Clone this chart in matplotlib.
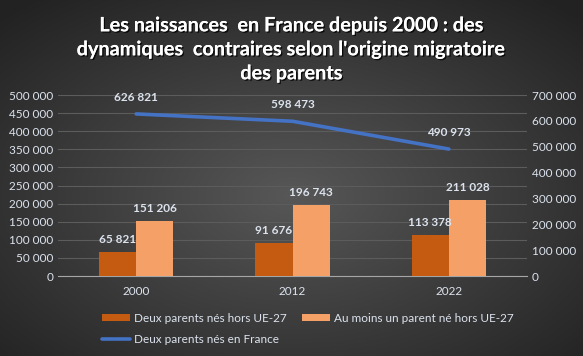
import numpy as np
import matplotlib.pyplot as plt
import matplotlib.patheffects as pe
from matplotlib.ticker import FuncFormatter

# data
annees = ['2000', '2012', '2022']
hors_ue = [65821, 91676, 113378]
un_parent_hors_ue = [151206, 196743, 211028]
nes_france = [626821, 598473, 490973]

plt.rcParams['font.family'] = ['Lato', 'DejaVu Sans']

txt_col = '#dce3ee'
fmt = FuncFormatter(lambda v, p: '{:,.0f}'.format(v).replace(',', ' '))

fig = plt.figure(figsize=(5.83, 3.56), dpi=100)

# fond en degrade radial
bg = fig.add_axes([0, 0, 1, 1], zorder=-10)
yy, xx = np.mgrid[0:1:356j, 0:1:583j]
r = np.sqrt(((xx - 0.5) / 0.75) ** 2 + ((yy - 0.55) / 0.75) ** 2)
r = np.clip(r / 0.95, 0, 1)
c0 = np.array([0x57, 0x57, 0x57]) / 255.
c1 = np.array([0x22, 0x22, 0x22]) / 255.
img = c0[None, None, :] * (1 - r[..., None]) + c1[None, None, :] * r[..., None]
bg.imshow(img, aspect='auto', extent=[0, 1, 0, 1], origin='upper')
bg.axis('off')

ax = fig.add_axes([0.0995, 0.2247, 0.8045, 0.5084])
ax.set_facecolor('none')
x = np.arange(len(annees))
w = 0.237
b1 = ax.bar(x - w / 2, hors_ue, w, color='#C55A11', label='Deux parents nés hors UE-27', zorder=3)
b2 = ax.bar(x + w / 2, un_parent_hors_ue, w, color='#F4A067', label='Au moins un parent né hors UE-27', zorder=3)
ax.set_ylim(0, 500000)
ax.set_xlim(-0.5, 2.5)
ax.set_yticks(np.arange(0, 500001, 50000))
ax.yaxis.set_major_formatter(fmt)
ax.set_xticks(x)
ax.set_xticklabels(annees)
ax.grid(axis='y', color='#5c5c5c', linewidth=0.8, zorder=0)
for s in ['top', 'right', 'left']:
    ax.spines[s].set_visible(False)
ax.spines['bottom'].set_color('#a6a6a6')
ax.tick_params(length=0, colors=txt_col, labelsize=8.5)
ax.tick_params(axis='x', pad=7)

for bars, vals in [(b1, hors_ue), (b2, un_parent_hors_ue)]:
    for rect, v in zip(bars, vals):
        ax.annotate(fmt(v), (rect.get_x() + rect.get_width() / 2, v),
                    xytext=(0, 5), textcoords='offset points', ha='center', va='bottom',
                    color=txt_col, fontsize=8.5, fontweight='bold')

ax2 = ax.twinx()
ax2.plot(x, nes_france, color='#4472C4', linewidth=2.6, solid_capstyle='round',
         label='Deux parents nés en France', zorder=4)
ax2.set_ylim(0, 700000)
ax2.set_yticks(np.arange(0, 700001, 100000))
ax2.yaxis.set_major_formatter(fmt)
for s in ax2.spines.values():
    s.set_visible(False)
ax2.tick_params(length=0, colors=txt_col, labelsize=8.5)
for xi, v in zip(x, nes_france):
    ax2.annotate(fmt(v), (xi, v), xytext=(0, 8), textcoords='offset points',
                 ha='center', va='bottom', color=txt_col, fontsize=8.5, fontweight='bold')

fig.text(0.5, 0.957, "Les naissances  en France depuis 2000 : des\n"
         "dynamiques  contraires selon l'origine migratoire\ndes parents",
         ha='center', va='top', color='white', fontsize=14.3, fontweight='bold',
         linespacing=1.25,
         path_effects=[pe.withSimplePatchShadow(offset=(1, -1), shadow_rgbFace='black', alpha=0.8),
                       pe.Normal()])

h1, l1 = ax.get_legend_handles_labels()
h2, l2 = ax2.get_legend_handles_labels()
# ordre colonne par colonne
handles = [h1[0], h2[0], h1[1]]
labels = [l1[0], l2[0], l1[1]]
leg = fig.legend(handles, labels, loc='upper left', bbox_to_anchor=(0.165, 0.138),
                 ncol=2, frameon=False, fontsize=8.5, labelcolor=txt_col,
                 handlelength=2.4, handleheight=0.6, columnspacing=1.3,
                 handletextpad=0.3, labelspacing=0.9, borderpad=0)

fig.savefig('out.png', dpi=100)
